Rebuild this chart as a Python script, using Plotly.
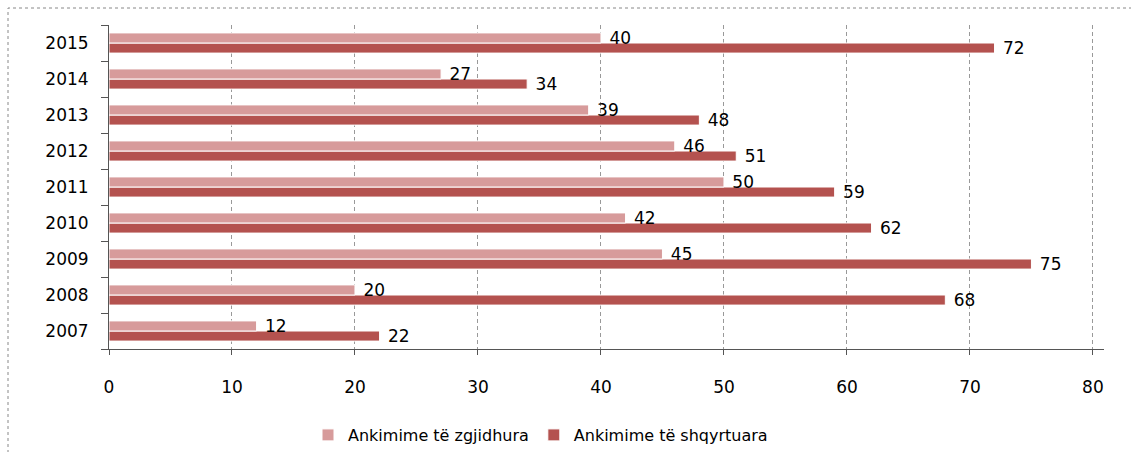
import plotly.graph_objects as go

years = ["2007", "2008", "2009", "2010", "2011", "2012", "2013", "2014", "2015"]
resolved = [12, 20, 45, 42, 50, 46, 39, 27, 40]      # Ankimime të zgjidhura
reviewed = [22, 68, 75, 62, 59, 51, 48, 34, 72]      # Ankimime të shqyrtuara
x_ticks = [0, 10, 20, 30, 40, 50, 60, 70, 80]

PINK = "#D79B9B"
RED = "#B4524F"
FONT = "DejaVu Sans"
FS = 17

fig = go.Figure()
fig.add_trace(go.Bar(
    y=years, x=reviewed, orientation="h", name="Ankimime të shqyrtuara",
    marker=dict(color=RED, line=dict(color="white", width=1)),
    texttemplate=" %{x}", textposition="outside", cliponaxis=False, constraintext="none",
    textfont=dict(family=FONT, size=FS, color="black"), legendrank=2,
))
fig.add_trace(go.Bar(
    y=years, x=resolved, orientation="h", name="Ankimime të zgjidhura",
    marker=dict(color=PINK, line=dict(color="white", width=1)),
    texttemplate=" %{x}", textposition="outside", cliponaxis=False, constraintext="none",
    textfont=dict(family=FONT, size=FS, color="black"), legendrank=1,
))

L, R, T, B = 109, 1104, 25, 349
W, H = 1131, 452
pw, ph = R - L, B - T

def px(x):
    return (x - L) / pw

def py(y):
    return (B - y) / ph

fig.update_layout(
    width=W, height=H,
    margin=dict(l=L, r=W - R, t=T, b=H - B, autoexpand=False),
    barmode="group", bargap=0.44, bargroupgap=0,
    plot_bgcolor="white", paper_bgcolor="white",
    font=dict(family=FONT, size=FS, color="black"),
    legend=dict(orientation="h", x=px(308), xanchor="left", y=py(435), yanchor="middle",
                font=dict(family=FONT, size=16), itemwidth=30, traceorder="normal"),
    xaxis=dict(range=[0, 80.9], tickvals=x_ticks, showgrid=True, gridcolor="#999999",
               griddash="4px,3px", gridwidth=1, showline=True, linecolor="#555555",
               ticks="outside", ticklen=5, tickcolor="#555555", zeroline=False,
               ticklabelstandoff=18, tickfont=dict(size=FS), automargin=False),
    yaxis=dict(showline=True, linecolor="#555555", ticks="outside", ticklen=7,
               tickcolor="#555555", tickson="boundaries", showgrid=False,
               ticklabelstandoff=16, tickfont=dict(size=FS), automargin=False),
    shapes=[dict(type="rect", xref="paper", yref="paper",
                 x0=px(8), x1=px(1136), y0=py(460), y1=py(8),
                 line=dict(color="#888888", width=1, dash="dot"),
                 fillcolor="rgba(0,0,0,0)", layer="below")],
)

fig.write_html("out.html", config={"displayModeBar": False},
               post_script="document.body.style.margin='0';")
